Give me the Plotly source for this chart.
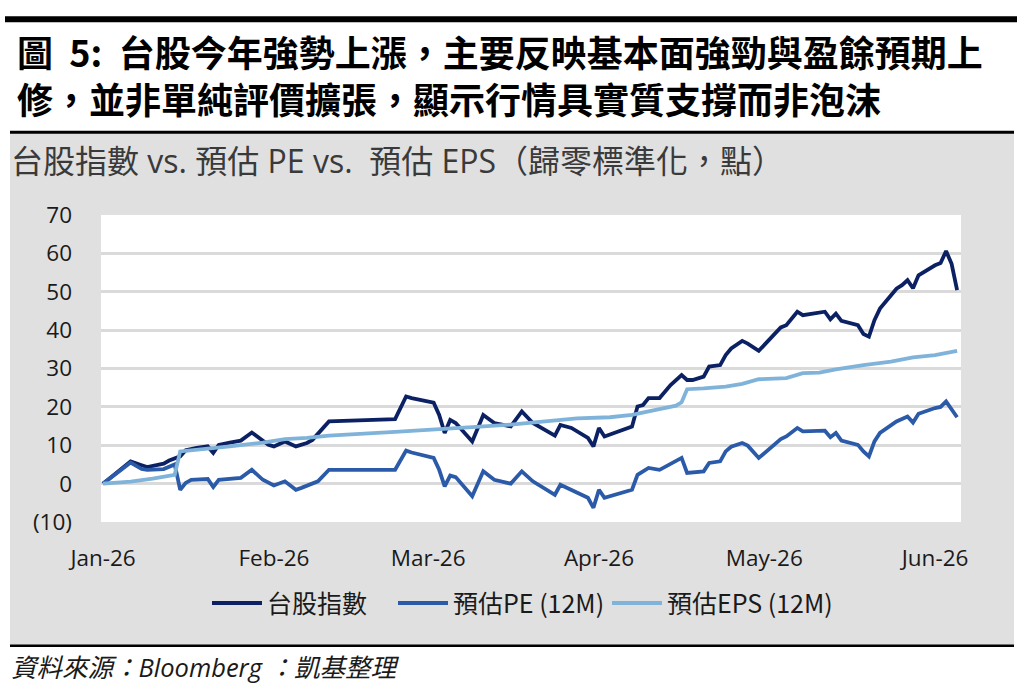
import plotly.graph_objects as go

# ---------------- data ----------------
idx_dates = ["2026-01-01","2026-01-06","2026-01-08","2026-01-09","2026-01-12","2026-01-13","2026-01-15",
             "2026-01-16","2026-01-18","2026-01-20","2026-01-21","2026-01-22","2026-01-24","2026-01-26",
             "2026-01-28","2026-01-30","2026-01-31","2026-02-01","2026-02-03","2026-02-05","2026-02-07",
             "2026-02-08","2026-02-11","2026-02-23","2026-02-25","2026-02-26","2026-03-02","2026-03-03",
             "2026-03-04","2026-03-05","2026-03-06","2026-03-09","2026-03-11","2026-03-13","2026-03-16",
             "2026-03-18","2026-03-20","2026-03-24","2026-03-25","2026-03-27","2026-03-30","2026-03-31",
             "2026-04-01","2026-04-02","2026-04-07","2026-04-08","2026-04-09","2026-04-10","2026-04-12",
             "2026-04-14","2026-04-16","2026-04-17","2026-04-18","2026-04-20","2026-04-21","2026-04-23",
             "2026-04-24","2026-04-25","2026-04-27","2026-04-28","2026-04-30","2026-05-04","2026-05-05",
             "2026-05-07","2026-05-08","2026-05-12","2026-05-13","2026-05-14","2026-05-15","2026-05-18",
             "2026-05-19","2026-05-20","2026-05-21","2026-05-22","2026-05-25","2026-05-26","2026-05-27",
             "2026-05-28","2026-05-29","2026-06-01","2026-06-02","2026-06-03","2026-06-04","2026-06-05"]
idx_vals = [0, 5.8, 4.8, 4.3, 5.2, 6.0, 7.1,
            8.7, 9.3, 9.7, 8.0, 10.1, 10.7, 11.2,
            13.3, 11.2, 10.1, 9.7, 11.0, 9.7, 10.6,
            11.4, 16.2, 16.8, 22.7, 22.3, 21.1, 17.9,
            13.2, 16.6, 15.8, 11.0, 17.9, 15.8, 14.9,
            18.8, 15.8, 12.5, 15.3, 14.5, 11.9, 9.7,
            14.5, 12.3, 14.9, 20.1, 20.5, 22.3, 22.3,
            25.7, 28.3, 27.0, 27.0, 27.9, 30.5, 30.9,
            33.5, 35.2, 37.2, 36.5, 34.6, 40.7, 41.3,
            44.8, 43.9, 44.8, 42.8, 44.3, 42.4, 41.3,
            39.0, 38.3, 42.6, 45.6, 50.8, 51.7, 53.0,
            50.9, 54.3, 56.9, 57.5, 60.6, 57.3, 50.4]

pe_dates = ["2026-01-01","2026-01-06","2026-01-08","2026-01-09","2026-01-12","2026-01-14","2026-01-15",
            "2026-01-16","2026-01-17","2026-01-20","2026-01-21","2026-01-22","2026-01-26","2026-01-28",
            "2026-01-30","2026-02-01","2026-02-03","2026-02-05","2026-02-06","2026-02-08","2026-02-09",
            "2026-02-11","2026-02-23","2026-02-25","2026-02-26","2026-03-02","2026-03-03","2026-03-04",
            "2026-03-05","2026-03-06","2026-03-09","2026-03-11","2026-03-13","2026-03-16","2026-03-18",
            "2026-03-20","2026-03-24","2026-03-25","2026-03-30","2026-03-31","2026-04-01","2026-04-02",
            "2026-04-07","2026-04-08","2026-04-09","2026-04-10","2026-04-12","2026-04-16","2026-04-17",
            "2026-04-20","2026-04-21","2026-04-23","2026-04-24","2026-04-25","2026-04-27","2026-04-28",
            "2026-04-30","2026-05-04","2026-05-05","2026-05-07","2026-05-08","2026-05-12","2026-05-13",
            "2026-05-14","2026-05-15","2026-05-18","2026-05-19","2026-05-20","2026-05-21","2026-05-22",
            "2026-05-25","2026-05-26","2026-05-27","2026-05-28","2026-05-29","2026-06-01","2026-06-02",
            "2026-06-03","2026-06-04","2026-06-05"]
pe_vals = [0, 5.5, 3.8, 3.6, 3.8, 5.0, -1.6,
           0.2, 1.0, 1.2, -0.9, 1.0, 1.5, 3.6,
           1.0, -0.5, 0.6, -1.6, -1.1, 0.2, 0.6,
           3.6, 3.6, 8.6, 8.1, 6.7, 3.6, -0.7,
           2.1, 1.7, -3.3, 3.2, 1.0, 0.0, 3.2,
           0.6, -2.9, -0.3, -3.7, -6.3, -1.6, -3.7,
           -1.6, 2.3, 3.2, 4.1, 3.6, 6.7, 2.8,
           3.2, 5.4, 5.8, 8.4, 9.6, 10.6, 9.9,
           6.7, 11.6, 12.3, 14.5, 13.6, 13.8, 12.1,
           13.2, 11.2, 10.1, 8.4, 7.1, 11.0, 13.2,
           16.2, 16.8, 17.5, 15.9, 18.2, 19.7, 20.0,
           21.4, 19.2, 17.3]

eps_dates = ["2026-01-01","2026-01-06","2026-01-10","2026-01-14","2026-01-15","2026-01-18","2026-01-24",
             "2026-01-30","2026-02-03","2026-02-07","2026-02-11","2026-02-23","2026-03-02","2026-03-09",
             "2026-03-16","2026-03-22","2026-03-28","2026-04-03","2026-04-07","2026-04-10","2026-04-12",
             "2026-04-15","2026-04-16","2026-04-17","2026-04-20","2026-04-24","2026-04-27","2026-04-30",
             "2026-05-05","2026-05-08","2026-05-11","2026-05-14","2026-05-19","2026-05-24","2026-05-28",
             "2026-06-01","2026-06-05"]
eps_vals = [0, 0.5, 1.3, 2.3, 8.4, 8.8, 9.7,
            10.7, 11.6, 11.9, 12.5, 13.5, 14.0, 14.7,
            15.4, 16.3, 17.0, 17.3, 17.9, 18.8, 19.5,
            20.3, 21.2, 24.6, 24.8, 25.3, 26.0, 27.2,
            27.5, 28.8, 28.9, 29.8, 30.9, 31.8, 32.9,
            33.5, 34.6]

series_names = ["台股指數", "預估PE (12M)", "預估EPS (12M)"]
series_colors = ["#0b2163", "#2b5ba8", "#80b3da"]

y_tickvals = [70, 60, 50, 40, 30, 20, 10, 0, -10]
y_ticktext = ["70", "60", "50", "40", "30", "20", "10", "0", "(10)"]
x_tickvals = ["2026-01-01", "2026-02-01", "2026-03-01", "2026-04-01", "2026-05-01", "2026-06-01"]
x_ticktext = ["Jan-26", "Feb-26", "Mar-26", "Apr-26", "May-26", "Jun-26"]

title1 = "圖  5:  台股今年強勢上漲，主要反映基本面強勁與盈餘預期上"
title2 = "修，並非單純評價擴張，顯示行情具實質支撐而非泡沫"
subtitle = "台股指數 vs. 預估 PE vs.  預估 EPS（歸零標準化，點）"
source = "資料來源：Bloomberg ：凱基整理"

# ---------------- layout helpers ----------------
W, H = 1022, 695
L, R, T, B = 101, 961, 214.5, 522.5


def fx(px):
    return (px - L) / (R - L)


def fy(py):
    return (B - py) / (B - T)


FONT = "Open Sans, Noto Sans CJK TC, sans-serif"
CJK = "Noto Sans CJK TC, sans-serif"

legend_ids = ["legend", "legend2", "legend3"]
legend_x = [207, 393, 607]

fig = go.Figure()
for d, v, n, c, lg in zip([idx_dates, pe_dates, eps_dates], [idx_vals, pe_vals, eps_vals],
                          series_names, series_colors, legend_ids):
    fig.add_trace(go.Scatter(x=d, y=v, name=n, mode="lines", legend=lg,
                             line=dict(color=c, width=3.8, shape="linear")))

shapes = [
    dict(type="rect", xref="paper", yref="paper", x0=fx(5), x1=fx(1017), y0=fy(15), y1=fy(21),
         fillcolor="#000000", line=dict(width=0), layer="below"),
    dict(type="rect", xref="paper", yref="paper", x0=fx(10), x1=fx(1014), y0=fy(131), y1=fy(647),
         fillcolor="#e0e0e0", line=dict(width=0), layer="below"),
    dict(type="rect", xref="paper", yref="paper", x0=0, x1=1, y0=0, y1=1,
         fillcolor="#ffffff", line=dict(width=0), layer="below"),
    dict(type="rect", xref="paper", yref="paper", x0=fx(10), x1=fx(1014), y0=fy(130), y1=fy(133),
         fillcolor="#000000", line=dict(width=0), layer="below"),
    dict(type="rect", xref="paper", yref="paper", x0=fx(10), x1=fx(1014), y0=fy(645.5), y1=fy(648),
         fillcolor="#000000", line=dict(width=0), layer="below"),
]

annotations = [
    dict(text="<b>" + title1 + "</b>", x=fx(15), y=fy(49.5), xref="paper", yref="paper",
         xanchor="left", yanchor="middle", showarrow=False,
         font=dict(family=CJK, size=36, color="#000000")),
    dict(text="<b>" + title2 + "</b>", x=fx(15), y=fy(97.5), xref="paper", yref="paper",
         xanchor="left", yanchor="middle", showarrow=False,
         font=dict(family=CJK, size=36, color="#000000")),
    dict(text=subtitle, x=fx(9), y=fy(160), xref="paper", yref="paper",
         xanchor="left", yanchor="middle", showarrow=False,
         font=dict(family=FONT, size=32, color="#3a3a3a")),
    dict(text="<i>" + source + "</i>", x=fx(9), y=fy(668), xref="paper", yref="paper",
         xanchor="left", yanchor="middle", showarrow=False,
         font=dict(family=FONT, size=25.5, color="#1a1a1a")),
]

legend_common = dict(orientation="h", yanchor="middle", xanchor="left",
                     bgcolor="rgba(0,0,0,0)", itemwidth=50, tracegroupgap=0,
                     font=dict(family=CJK, size=25, color="#1a1a1a"))
legends = {lg: dict(legend_common, x=fx(lx), y=fy(604)) for lg, lx in zip(legend_ids, legend_x)}

fig.update_layout(
    width=W, height=H,
    margin=dict(l=L, r=W - R, t=T, b=H - B, pad=0),
    paper_bgcolor="#ffffff",
    plot_bgcolor="rgba(0,0,0,0)",
    shapes=shapes,
    annotations=annotations,
    showlegend=True,
    hovermode=False,
    **legends,
)

fig.update_xaxes(
    type="date",
    range=["2025-12-31 15:00", "2026-06-05 17:00"],
    tickmode="array", tickvals=x_tickvals, ticktext=x_ticktext,
    showgrid=False, zeroline=False, showline=False,
    ticks="", ticklabelstandoff=20,
    tickfont=dict(family=FONT, size=22.5, color="#1a1a1a"),
)
fig.update_yaxes(
    range=[-10, 70],
    tickmode="array", tickvals=y_tickvals, ticktext=y_ticktext,
    showgrid=True, gridcolor="#dadada", gridwidth=3,
    zeroline=False, showline=False,
    ticks="", ticklabelstandoff=28,
    tickfont=dict(family=FONT, size=22.5, color="#1a1a1a"),
)

fig.write_html("out.html")
